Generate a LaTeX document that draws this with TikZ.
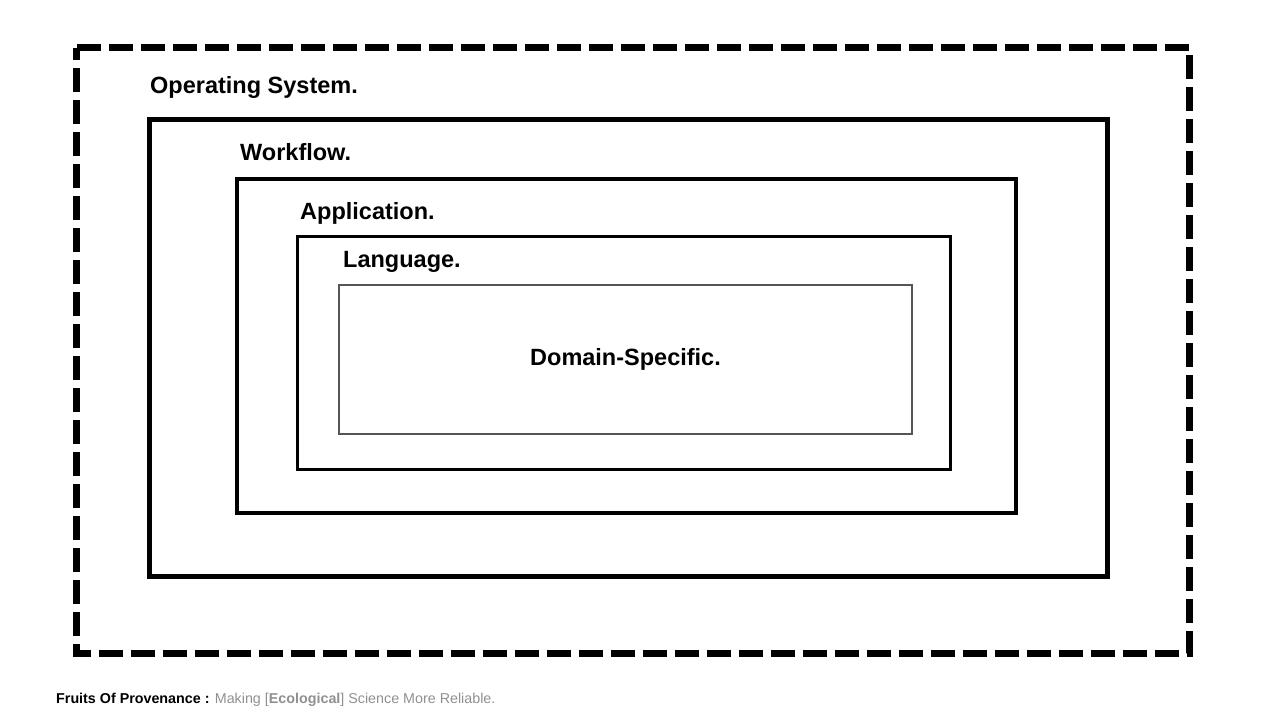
\documentclass[tikz,border=0pt]{standalone}
\usepackage{fontspec}
\setmainfont{Liberation Sans}
\definecolor{footgray}{HTML}{909090}
\definecolor{boxgray}{HTML}{555555}
\tikzset{
  lbl/.style={anchor=base west, inner sep=0pt, font=\fontsize{23.5}{27}\selectfont\bfseries},
  outerbox/.style={draw=black, line width=7pt, dash pattern=on 24pt off 8pt},
  wfbox/.style={draw=black, line width=5pt},
  appbox/.style={draw=black, line width=3.5pt},
  langbox/.style={draw=black, line width=3pt},
  dombox/.style={draw=boxgray, line width=1.2pt},
  foot/.style={anchor=base west, inner sep=0pt, font=\fontsize{14.3}{16}\selectfont}
}
\begin{document}
\begin{tikzpicture}[x=1pt,y=-1pt]
\useasboundingbox (0,0) rectangle (1265,712);
\draw[outerbox] (76.5,47.5) -- (1189,47.5) -- (1189,653) -- (76.5,653) -- cycle;
\node[lbl] (os) at (150,93) {Operating System.};
\draw[wfbox] (149.5,119.5) rectangle (1107,576);
\node[lbl] (wf) at (240,160) {Workflow.};
\draw[appbox] (237,179) rectangle (1016,513);
\node[lbl] (app) at (300,219) {Application.};
\draw[langbox] (297,236) rectangle (950,469);
\node[lbl] (lang) at (343,267) {Language.};
\draw[dombox] (339,285) rectangle (912,434);
\node[anchor=base, inner sep=0pt, font=\fontsize{23.5}{27}\selectfont\bfseries] (dom) at (625.5,365) {Domain-Specific.};
\node[foot] (footer) at (56,703) {\textbf{Fruits Of Provenance :} \textcolor{footgray}{Making [\textbf{Ecological}] Science More Reliable.}};
\end{tikzpicture}
\end{document}
